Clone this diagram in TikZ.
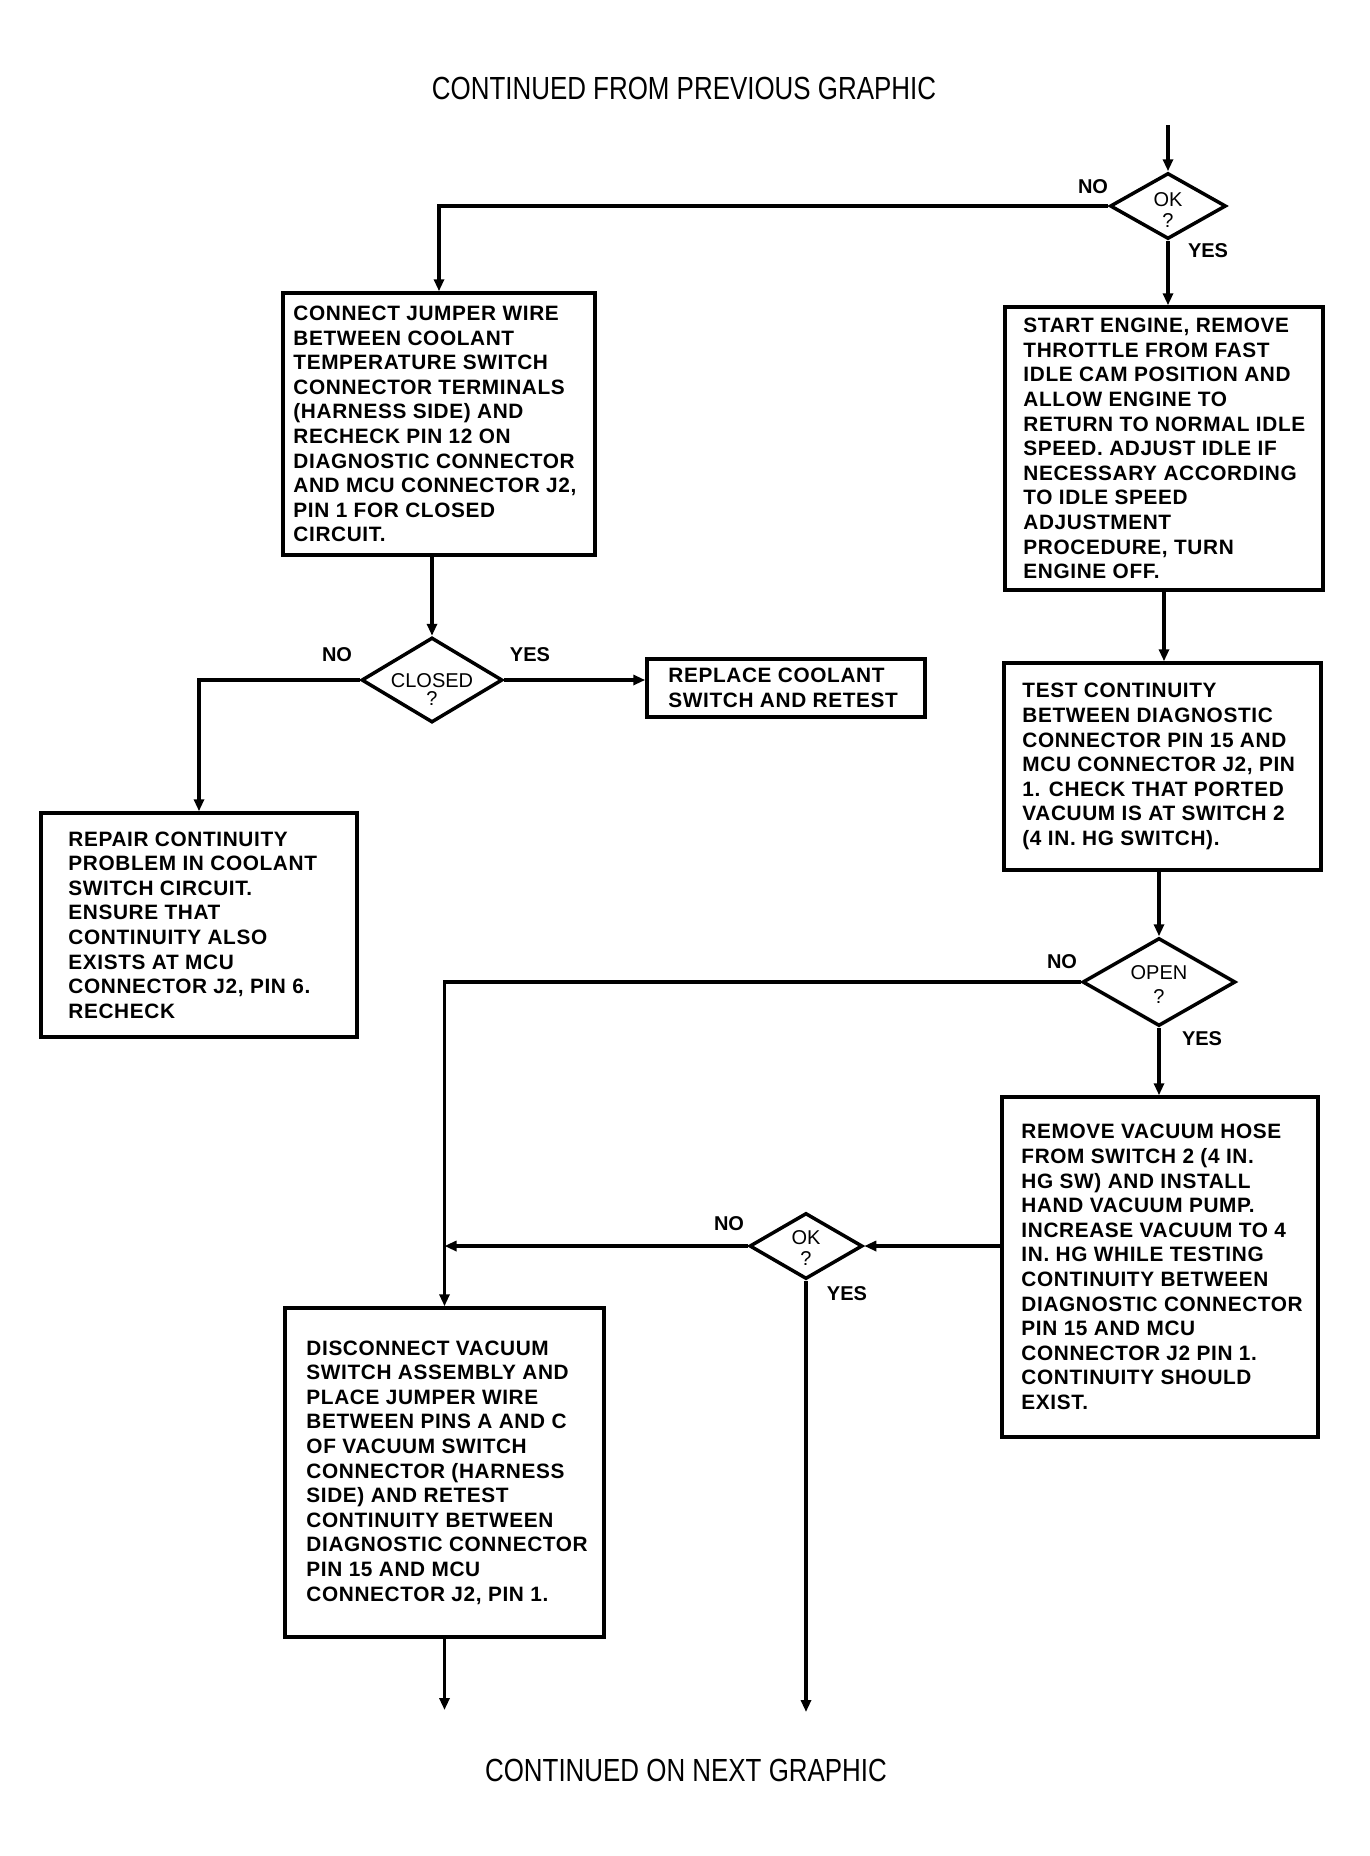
\documentclass[tikz,border=0pt]{standalone}
\usepackage{fontspec}
\setmainfont{Liberation Sans}
\newfontfamily\boxfont{Liberation Sans}[LetterSpace=3]
\newfontfamily\titlefont{Liberation Sans}[FakeStretch=0.81]
\usetikzlibrary{arrows.meta,shapes.geometric}
\tikzset{
 box/.style={draw, line width=3.5pt, rectangle, inner sep=0pt},
 boxtext/.style={anchor=west, align=left, inner sep=0pt, font=\boxfont\bfseries\fontsize{20.8}{24.6}\selectfont},
 dia/.style={draw, diamond, line width=3.5pt, inner sep=0pt},
 diatext/.style={align=center, inner sep=0pt, font=\fontsize{20}{21}\selectfont},
 yn/.style={inner sep=0pt, font=\bfseries\fontsize{20}{22}\selectfont},
 conn/.style={line width=3.5pt},
 arr/.style={conn, -{Triangle[length=12pt,width=10pt]}},
 title/.style={inner sep=0pt, font=\titlefont\fontsize{32}{36}\selectfont},
}
\begin{document}
\begin{tikzpicture}[x=1pt,y=-1pt]
\fill[white] (0,0) rectangle (1370,1856);
\useasboundingbox (0,0) rectangle (1370,1856);

\node[title] (t1) at (684,88) {CONTINUED FROM PREVIOUS GRAPHIC};
\node[title] (t2) at (686,1770) {CONTINUED ON NEXT GRAPHIC};

% diamonds
\node[dia, minimum width=116pt, minimum height=66pt] (ok1) at (1168,206) {};
\node[diatext] (ok1t) at (1168,210) {OK\\?};
\node[dia, minimum width=141pt, minimum height=85pt] (cl) at (432,680) {};
\node[diatext] (clt) at (432,690) {CLOSED\\[-3pt]?};
\node[dia, minimum width=153pt, minimum height=88pt] (op) at (1159,982) {};
\node[diatext] (opt) at (1159,985) {OPEN\\[3pt]?};
\node[dia, minimum width=113pt, minimum height=66pt] (ok2) at (806,1246) {};
\node[diatext] (ok2t) at (806,1248) {OK\\?};

% boxes
\node[box, minimum width=312pt, minimum height=262pt] (b1) at (439,424) {};
\node[boxtext] (b1t) at ([xshift=12pt]b1.west) {CONNECT JUMPER WIRE\\BETWEEN COOLANT\\TEMPERATURE SWITCH\\CONNECTOR TERMINALS\\(HARNESS SIDE) AND\\RECHECK PIN 12 ON\\DIAGNOSTIC CONNECTOR\\AND MCU CONNECTOR J2,\\PIN 1 FOR CLOSED\\CIRCUIT.};

\node[box, minimum width=318pt, minimum height=283pt] (b2) at (1164,448.5) {};
\node[boxtext] (b2t) at ([xshift=20pt]b2.west) {START ENGINE, REMOVE\\THROTTLE FROM FAST\\IDLE CAM POSITION AND\\ALLOW ENGINE TO\\RETURN TO NORMAL IDLE\\SPEED. ADJUST IDLE IF\\NECESSARY ACCORDING\\TO IDLE SPEED\\ADJUSTMENT\\PROCEDURE, TURN\\ENGINE OFF.};

\node[box, minimum width=317pt, minimum height=207pt] (b3) at (1162.5,766.5) {};
\node[boxtext] (b3t) at ([xshift=20pt]b3.west) {TEST CONTINUITY\\BETWEEN DIAGNOSTIC\\CONNECTOR PIN 15 AND\\MCU CONNECTOR J2, PIN\\1. CHECK THAT PORTED\\VACUUM IS AT SWITCH 2\\(4 IN. HG SWITCH).};

\node[box, minimum width=316pt, minimum height=224pt] (b4) at (199,925) {};
\node[boxtext] (b4t) at ([xshift=29pt]b4.west) {REPAIR CONTINUITY\\PROBLEM IN COOLANT\\SWITCH CIRCUIT.\\ENSURE THAT\\CONTINUITY ALSO\\EXISTS AT MCU\\CONNECTOR J2, PIN 6.\\RECHECK};

\node[box, minimum width=278pt, minimum height=58pt] (rep) at (786,688) {};
\node[boxtext] (rept) at ([xshift=23pt]rep.west) {REPLACE COOLANT\\SWITCH AND RETEST};

\node[box, minimum width=316pt, minimum height=340pt] (b5) at (1160,1267) {};
\node[boxtext] (b5t) at ([xshift=21pt]b5.west) {REMOVE VACUUM HOSE\\FROM SWITCH 2 (4 IN.\\HG SW) AND INSTALL\\HAND VACUUM PUMP.\\INCREASE VACUUM TO 4\\IN. HG WHILE TESTING\\CONTINUITY BETWEEN\\DIAGNOSTIC CONNECTOR\\PIN 15 AND MCU\\CONNECTOR J2 PIN 1.\\CONTINUITY SHOULD\\EXIST.};

\node[box, minimum width=319pt, minimum height=329pt] (b6) at (444.5,1472.5) {};
\node[boxtext] (b6t) at ([xshift=23pt]b6.west) {DISCONNECT VACUUM\\SWITCH ASSEMBLY AND\\PLACE JUMPER WIRE\\BETWEEN PINS A AND C\\OF VACUUM SWITCH\\CONNECTOR (HARNESS\\SIDE) AND RETEST\\CONTINUITY BETWEEN\\DIAGNOSTIC CONNECTOR\\PIN 15 AND MCU\\CONNECTOR J2, PIN 1.};

% labels
\node[yn] (n1) at (1093,187) {NO};
\node[yn] (y1) at (1208,251) {YES};
\node[yn] (n2) at (337,655) {NO};
\node[yn] (y2) at (530,655) {YES};
\node[yn] (n3) at (1062,962) {NO};
\node[yn] (y3) at (1202,1039) {YES};
\node[yn] (n4) at (729,1224) {NO};
\node[yn] (y4) at (847,1294) {YES};

% connectors
\coordinate (top) at (1168,125);
\coordinate (e1) at (444,1710);
\coordinate (e2) at (804,1712);
\draw[arr] (top) -- (ok1.north);
\draw[arr] (ok1.west) -| (b1.north);
\draw[arr] (ok1.south) -- (ok1.south |- b2.north);
\draw[arr] (b1.south -| cl.north) -- (cl.north);
\draw[arr] (cl.east) -- (cl.east -| rep.west);
\draw[arr] (cl.west) -| (b4.north);
\draw[arr] (b2.south) -- (b2.south |- b3.north);
\draw[arr] (b3.south -| op.north) -- (op.north);
\draw[arr] (op.south) -- (op.south |- b5.north);
\draw[arr] (op.west) -| (b6.north);
\draw[arr] (ok2.east -| b5.west) -- (ok2.east);
\draw[arr] (ok2.west) -- (ok2.west -| b6.north);
\draw[arr] (b6.south) -- (b6.south |- e1);
\draw[arr] (ok2.south) -- (ok2.south |- e2);
\end{tikzpicture}
\end{document}
